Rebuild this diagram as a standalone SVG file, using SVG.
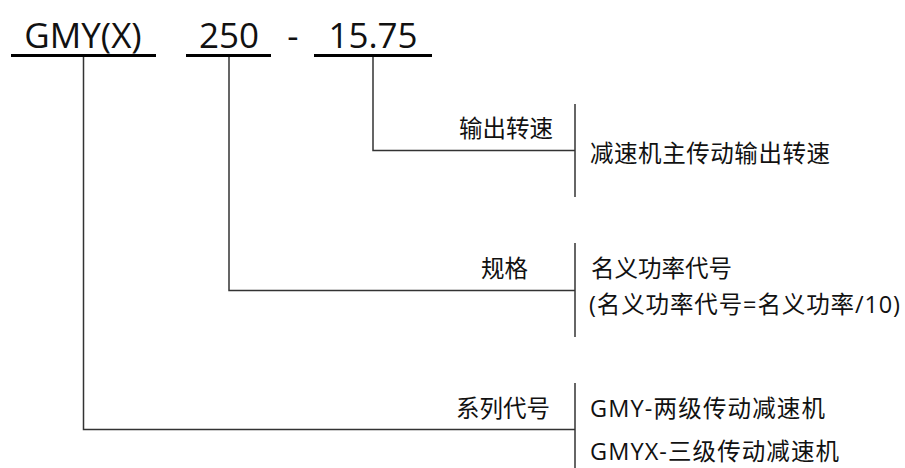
<svg xmlns="http://www.w3.org/2000/svg" width="905" height="468" viewBox="0 0 905 468">
<style>
text{font-family:"Open Sans","Noto Sans CJK SC","Noto Sans",sans-serif;fill:#111;}
.code{font-size:35px;text-anchor:middle;}
.lbl{font-size:23.5px;}
.end{text-anchor:end;}
.thick{stroke:#000;stroke-width:3;fill:none;}
.thin{stroke:#333;stroke-width:1.5;fill:none;}
</style>
<rect width="905" height="468" fill="#fff"/>
<g id="code">
<text class="code" x="83" y="48">GMY(X)</text>
<line class="thick" x1="11" y1="55.5" x2="156" y2="55.5"/>
<text class="code" x="229" y="48">250</text>
<line class="thick" x1="186" y1="55.5" x2="271" y2="55.5"/>
<text class="code" x="293" y="48">-</text>
<text class="code" x="373" y="48">15.75</text>
<line class="thick" x1="314" y1="55.5" x2="432" y2="55.5"/>
</g>
<g id="connectors">
<polyline class="thin" points="373,57 373,150.5 575,150.5"/>
<polyline class="thin" points="229,57 229,290.5 575,290.5"/>
<polyline class="thin" points="83.5,57 83.5,429.5 575,429.5"/>
<line class="thin" x1="575" y1="104" x2="575" y2="197"/>
<line class="thin" x1="575" y1="243" x2="575" y2="337"/>
<line class="thin" x1="575" y1="383" x2="575" y2="468"/>
</g>
<g id="speed">
<text class="lbl end" x="553" y="137">输出转速</text>
<text class="lbl" x="590" y="162" textLength="240">减速机主传动输出转速</text>
</g>
<g id="spec">
<text class="lbl end" x="528" y="277">规格</text>
<text class="lbl" x="591" y="277">名义功率代号</text>
<text class="lbl" x="589" y="313" textLength="311">(名义功率代号=名义功率/10)</text>
</g>
<g id="series">
<text class="lbl end" x="550" y="417">系列代号</text>
<text class="lbl" x="590" y="417" textLength="235">GMY-两级传动减速机</text>
<text class="lbl" x="590" y="460" textLength="249">GMYX-三级传动减速机</text>
</g>
</svg>
